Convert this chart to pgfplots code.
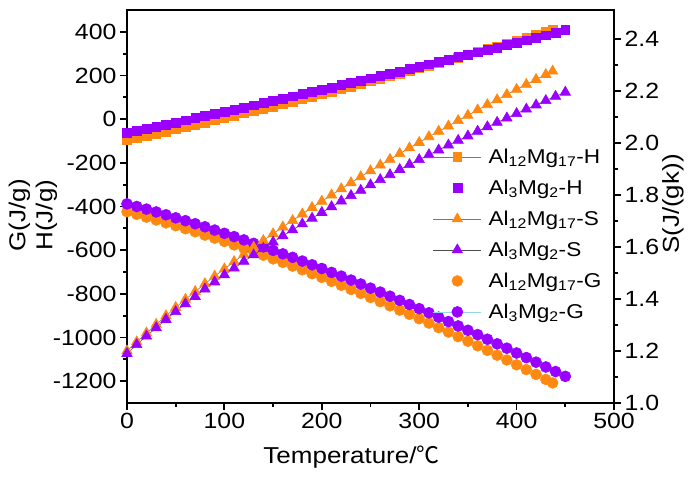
\documentclass[border=0pt]{standalone}
\usepackage{pgfplots}
\pgfplotsset{compat=1.18}
\usepackage{fontspec}
\setmainfont{Liberation Sans}[FakeStretch=1.13]
\newfontfamily\cjk{Noto Sans CJK SC}
\definecolor{orng}{RGB}{255,136,17}
\definecolor{purp}{RGB}{153,0,255}
\definecolor{lcyan}{RGB}{150,215,225}
\definecolor{lgray}{RGB}{120,120,120}
\pgfplotsset{
  base/.style={width=487pt,height=393pt,scale only axis,xmin=0,xmax=500,
    tick align=outside,axis line style={line width=2.2pt},
    major tick length=7pt,minor tick length=4pt,
    tick style={black,line width=1.8pt},
    tick label style={font=\fontsize{22}{25}\selectfont},
    label style={font=\fontsize{23}{27}\selectfont},
    /pgf/number format/assume math mode=true,/pgf/number format/1000 sep={},clip=false},
  hO/.style={lgray,line width=0.6pt,mark=square*,mark size=4.4pt,mark options={solid,draw=orng,fill=orng}},
  hP/.style={purp,only marks,mark=square*,mark size=4.4pt,mark options={draw=purp,fill=purp}},
  sO/.style={lgray,line width=0.6pt,mark=triangle*,mark size=6pt,mark options={solid,draw=orng,fill=orng}},
  sP/.style={black!70,line width=0.6pt,mark=triangle*,mark size=6pt,mark options={solid,draw=purp,fill=purp}},
  gO/.style={orng,only marks,mark=*,mark size=5.5pt,mark options={draw=orng,fill=orng}},
  gP/.style={lcyan,line width=0.6pt,mark=*,mark size=5.5pt,mark options={solid,draw=purp,fill=purp}},
}
\begin{document}
\begin{tikzpicture}
\begin{axis}[base,ymin=-1300,ymax=500,
  xtick={0,100,200,300,400,500},minor x tick num=1,
  ytick={-1200,-1000,-800,-600,-400,-200,0,200,400},minor y tick num=1,
  xtick pos=left,ytick pos=left,
  xlabel={Temperature/{\cjk ℃}},
  xlabel style={at={(axis description cs:0.461,-0.153)},anchor=base},
  ylabel={G(J/g)\\H(J/g)},
  ylabel style={align=center,at={(axis description cs:-0.193,0.478)},anchor=center}]
\addplot[hO] coordinates {(0,-96)(10,-86)(20,-77)(30,-67)(40,-57)(50,-46)(60,-36)(70,-26)(80,-16)(90,-5)(100,5)(110,15)(120,27)(130,37)(140,48)(150,58)(160,70)(170,81)(180,92)(190,103)(200,115)(210,126)(220,138)(230,149)(240,161)(250,173)(260,185)(270,197)(280,208)(290,221)(300,233)(310,246)(320,257)(330,270)(340,282)(350,295)(360,308)(370,321)(380,333)(390,346)(400,359)(410,372)(420,386)(430,399)(437,408)};
\addplot[hP] coordinates {(0,-63)(10,-53)(20,-43)(30,-34)(40,-24)(50,-15)(60,-5)(70,5)(80,15)(90,24)(100,34)(110,44)(120,54)(130,64)(140,74)(150,84)(160,94)(170,105)(180,115)(190,125)(200,136)(210,145)(220,157)(230,167)(240,177)(250,188)(260,199)(270,209)(280,219)(290,230)(300,241)(310,252)(320,263)(330,274)(340,285)(350,296)(360,307)(370,318)(380,328)(390,340)(400,351)(410,362)(420,374)(430,385)(440,397)(450,409)};
\addplot[gO] coordinates {(0,-424)(10,-436)(20,-449)(30,-462)(40,-475)(50,-488)(60,-502)(70,-516)(80,-531)(90,-545)(100,-560)(110,-576)(120,-591)(130,-607)(140,-623)(150,-640)(160,-656)(170,-673)(180,-690)(190,-708)(200,-725)(210,-743)(220,-761)(230,-780)(240,-798)(250,-817)(260,-836)(270,-855)(280,-875)(290,-894)(300,-914)(310,-934)(320,-955)(330,-975)(340,-996)(350,-1017)(360,-1038)(370,-1059)(380,-1081)(390,-1103)(400,-1125)(410,-1147)(420,-1169)(430,-1192)(437,-1208)};
\addplot[gP] coordinates {(0,-388)(10,-400)(20,-412)(30,-425)(40,-438)(50,-452)(60,-465)(70,-479)(80,-493)(90,-508)(100,-523)(110,-538)(120,-553)(130,-569)(140,-585)(150,-601)(160,-617)(170,-633)(180,-650)(190,-667)(200,-684)(210,-702)(220,-719)(230,-737)(240,-755)(250,-774)(260,-792)(270,-811)(280,-830)(290,-849)(300,-868)(310,-887)(320,-907)(330,-927)(340,-947)(350,-967)(360,-987)(370,-1008)(380,-1029)(390,-1049)(400,-1071)(410,-1092)(420,-1113)(430,-1135)(440,-1156)(450,-1178)};
\end{axis}
\begin{axis}[base,ymin=1.0,ymax=2.51,axis x line=none,axis y line*=right,
  ytick={1.0,1.2,1.4,1.6,1.8,2.0,2.2,2.4},minor y tick num=1,ytick pos=right,
  yticklabel style={/pgf/number format/.cd,fixed,fixed zerofill,precision=1},
  ylabel={S(J/(gk))},
  ylabel style={at={(axis description cs:1.121,0.506)},anchor=center},
  legend style={draw=none,fill=none,at={(axis description cs:0.628,0.652)},anchor=north west,
    inner sep=0pt,row sep=11pt,column sep=5pt,font=\fontsize{20}{23}\selectfont},
  legend cell align=left,
  legend image code/.code={\draw[mark repeat=2,mark phase=2,#1] plot coordinates {(0pt,0pt) (24pt,0pt) (48pt,0pt)};}]
\addlegendimage{hO}\addlegendentry{Al\textsubscript{12}Mg\textsubscript{17}-H}
\addlegendimage{hP}\addlegendentry{Al\textsubscript{3}Mg\textsubscript{2}-H}
\addplot[sO] coordinates {(0,1.200)(10,1.235)(20,1.269)(30,1.302)(40,1.335)(50,1.367)(60,1.398)(70,1.428)(80,1.458)(90,1.487)(100,1.515)(110,1.543)(120,1.571)(130,1.598)(140,1.624)(150,1.650)(160,1.676)(170,1.701)(180,1.726)(190,1.751)(200,1.775)(210,1.799)(220,1.823)(230,1.846)(240,1.869)(250,1.892)(260,1.914)(270,1.936)(280,1.958)(290,1.980)(300,2.001)(310,2.023)(320,2.044)(330,2.064)(340,2.085)(350,2.105)(360,2.126)(370,2.146)(380,2.165)(390,2.185)(400,2.205)(410,2.224)(420,2.243)(430,2.262)(437,2.275)};
\addlegendentry{Al\textsubscript{12}Mg\textsubscript{17}-S}
\addplot[sP] coordinates {(0,1.190)(10,1.224)(20,1.257)(30,1.289)(40,1.321)(50,1.351)(60,1.381)(70,1.409)(80,1.438)(90,1.465)(100,1.492)(110,1.518)(120,1.544)(130,1.569)(140,1.594)(150,1.618)(160,1.642)(170,1.665)(180,1.688)(190,1.710)(200,1.732)(210,1.754)(220,1.776)(230,1.797)(240,1.817)(250,1.838)(260,1.858)(270,1.877)(280,1.897)(290,1.916)(300,1.935)(310,1.954)(320,1.972)(330,1.991)(340,2.009)(350,2.026)(360,2.044)(370,2.061)(380,2.078)(390,2.095)(400,2.112)(410,2.129)(420,2.145)(430,2.162)(440,2.178)(450,2.194)};
\addlegendentry{Al\textsubscript{3}Mg\textsubscript{2}-S}
\addlegendimage{gO}\addlegendentry{Al\textsubscript{12}Mg\textsubscript{17}-G}
\addlegendimage{gP}\addlegendentry{Al\textsubscript{3}Mg\textsubscript{2}-G}
\end{axis}
\path (-127pt,-76pt) rectangle (570pt,403pt);
\end{tikzpicture}
\end{document}
